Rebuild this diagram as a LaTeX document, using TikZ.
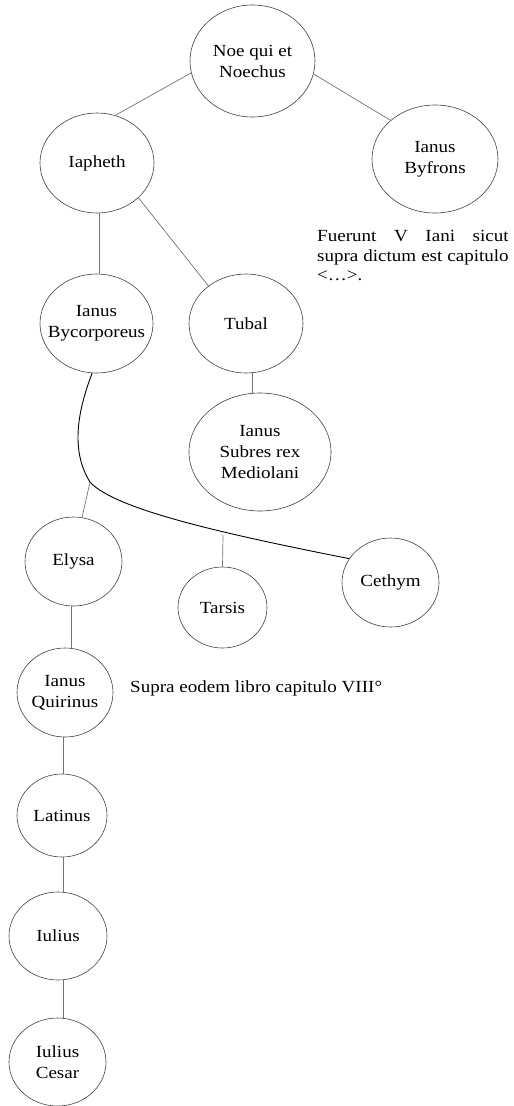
\documentclass[tikz,border=0pt]{standalone}
\usepackage{fontspec}
\setmainfont{Liberation Serif}[FakeStretch=1.12]
\usetikzlibrary{shapes.geometric}
\tikzset{
  el/.style 2 args={ellipse, draw=black!75, line width=0.6pt, inner sep=0pt,
     minimum width=#1, minimum height=#2},
  lbl/.style={align=center, inner sep=0pt, font=\fontsize{17}{21}\selectfont},
  conn/.style={draw=black!55, line width=0.7pt},
  curv/.style={draw=black, line width=0.9pt},
  note/.style={inner sep=0pt, font=\fontsize{17}{19.5}\selectfont}
}
\begin{document}
\begin{tikzpicture}[x=1pt,y=-1pt]
\useasboundingbox (0,0) rectangle (514,1106);
\node[el={125pt}{112pt}, label={[lbl]center:Noe qui et\\Noechus}] (noe) at (252.5,61) {};
\node[el={126pt}{108pt}, label={[lbl]center:Ianus\\Byfrons}] (byf) at (435,159) {};
\node[el={114pt}{100pt}, label={[lbl]center:Iapheth}] (iap) at (97,163) {};
\node[el={113pt}{99pt}, label={[lbl]center:Ianus\\Bycorporeus}] (byc) at (96.5,323.5) {};
\node[el={114pt}{99pt}, label={[lbl]center:Tubal}] (tub) at (246,323.5) {};
\node[el={142pt}{118pt}, label={[lbl]center:Ianus\\Subres rex\\Mediolani}] (sub) at (260,452) {};
\node[el={97pt}{89pt}, label={[lbl]center:Elysa}] (ely) at (73.5,561.5) {};
\node[el={89pt}{81pt}, label={[lbl]center:Tarsis}] (tar) at (222.5,607.5) {};
\node[el={97pt}{89pt}, label={[lbl]center:Cethym}] (ceth) at (390.5,582.5) {};
\node[el={96pt}{89pt}, label={[lbl]center:Ianus\\Quirinus}] (qui) at (65,692.5) {};
\node[el={90pt}{83pt}, label={[lbl]center:Latinus}] (lat) at (62,815.5) {};
\node[el={98pt}{88pt}, label={[lbl]center:Iulius}] (iul) at (58,936) {};
\node[el={97pt}{88pt}, label={[lbl]center:Iulius\\Cesar}] (ces) at (57.5,1062) {};

\node[note, anchor=base west] (fuer) at (317,241.7)
  {\parbox[t]{191.5pt}{\hbadness=10000 Fuerunt V Iani sicut supra dictum est capitulo \textless\ldots\textgreater.}};
\node[note, font=\fontsize{17}{21}\selectfont, anchor=base west] (supra) at (130,692) {Supra eodem libro capitulo VIII°};

\coordinate (j1) at (90,482);
\coordinate (j2) at (223,535);

\draw[conn] (noe.191) -- (iap.69);
\draw[conn] (noe.-12) -- (byf.139);
\draw[conn] ([xshift=2pt]iap.south) -- ([xshift=2.5pt]byc.north);
\draw[conn] (iap.-40) -- (tub.135);
\draw[conn] ([xshift=6pt]tub.south) -- ([xshift=-8pt]sub.north);
\draw[curv] (byc.265) .. controls (78,410) and (70,450) .. (j1)
   .. controls (115,510) and (230,535) .. (ceth.150);
\draw[conn] (j1) -- (ely.79);
\draw[conn] (j2) -- (tar.north);
\draw[conn] ([xshift=-2.5pt]ely.south) -- ([xshift=6pt]qui.north);
\draw[conn] ([xshift=-2pt]qui.south) -- ([xshift=1pt]lat.north);
\draw[conn] ([xshift=1pt]lat.south) -- ([xshift=5pt]iul.north);
\draw[conn] ([xshift=5pt]iul.south) -- ([xshift=5.5pt]ces.north);
\end{tikzpicture}
\end{document}
